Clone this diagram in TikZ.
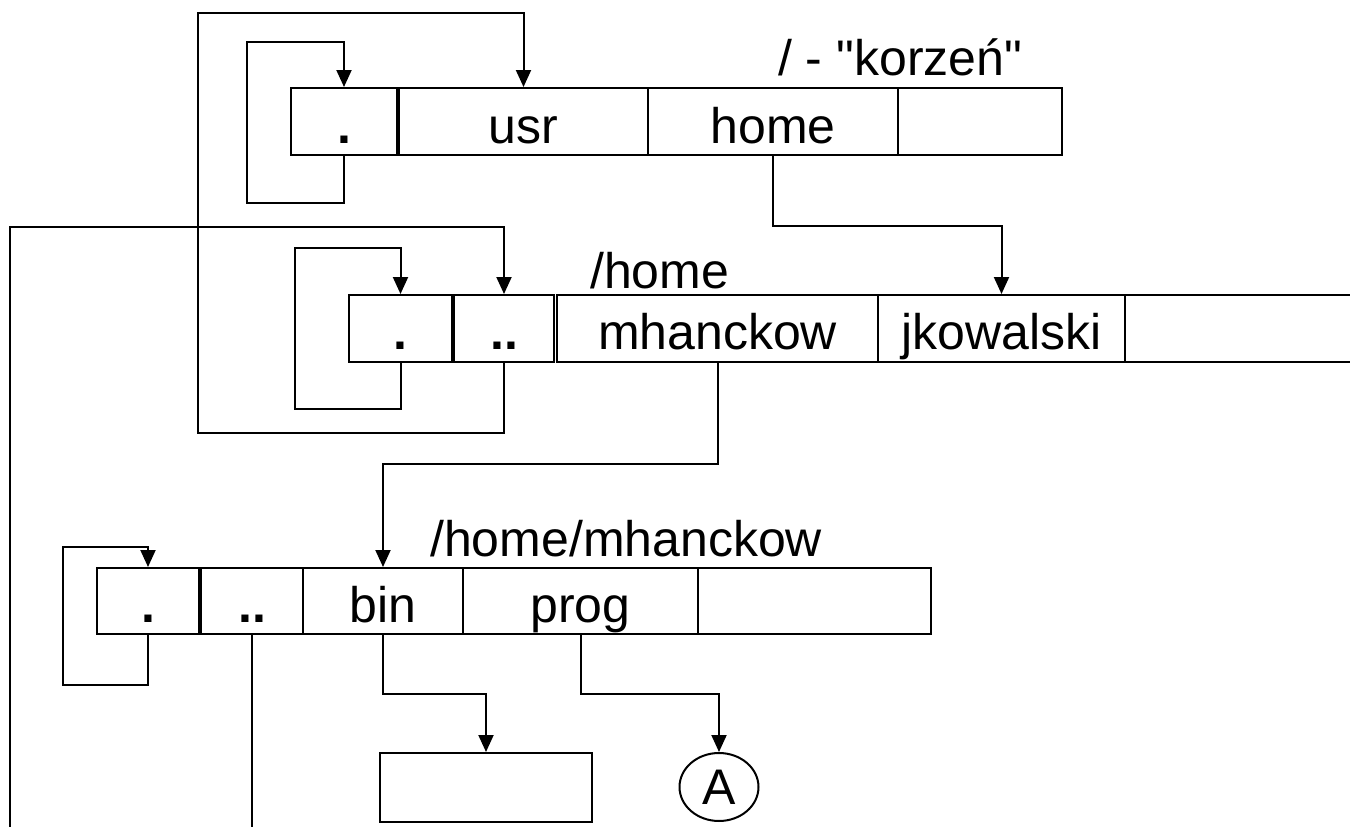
\documentclass[tikz,border=0pt]{standalone}
\usepackage{fontspec}
\setmainfont{Liberation Sans}
\usetikzlibrary{arrows.meta,shapes.geometric}

\begin{document}
\begin{tikzpicture}[x=1pt, y=-1pt,
  cell/.style={draw, line width=2pt, inner sep=0pt, font=\fontsize{50}{60}\selectfont},
  row1/.style={cell, minimum height=67pt, text height=55pt, text depth=12pt},
  row2/.style={cell, minimum height=67pt, text height=54pt, text depth=13pt},
  row3/.style={cell, minimum height=66pt, text height=54pt, text depth=12pt},
  lbl/.style={font=\fontsize{50}{60}\selectfont, inner sep=0pt, anchor=base west},
  link/.style={line width=2pt},
  arr/.style={link, -{Triangle[length=17pt,width=15pt]}}
]
\useasboundingbox (0,0) rectangle (1350,827);
% katalog glowny
\node[row1, minimum width=106pt] (r1dot) at (344,121.5) {\textbf{.}};
\node[row1, minimum width=249pt] (r1usr) at (523.5,121.5) {usr};
\node[row1, minimum width=250pt] (r1home) at (773,121.5) {home};
\node[row1, minimum width=164pt] (r1free) at (980,121.5) {};
\node[lbl] (r1name) at (778,75) {/ - \textquotedbl korzeń\textquotedbl};
% /home
\node[row2, minimum width=103pt] (r2dot) at (400.5,328.5) {\textbf{.}};
\node[row2, minimum width=100pt] (r2up) at (504,328.5) {\textbf{..}};
\node[row2, minimum width=321pt] (r2mh) at (717.5,328.5) {mhanckow};
\node[row2, minimum width=247pt] (r2jk) at (1001.5,328.5) {jkowalski};
\node[row2, minimum width=240pt] (r2free) at (1245,328.5) {};
\node[lbl] (r2name) at (590,288) {/home};
% /home/mhanckow
\node[row3, minimum width=102pt] (r3dot) at (148,601) {\textbf{.}};
\node[row3, minimum width=102pt] (r3up) at (252,601) {\textbf{..}};
\node[row3, minimum width=160pt] (r3bin) at (383,601) {bin};
\node[row3, minimum width=235pt] (r3prog) at (580.5,601) {prog};
\node[row3, minimum width=233pt] (r3free) at (814.5,601) {};
\node[lbl] (r3name) at (430,556) {/home/mhanckow};
% zawartosc
\node[cell, minimum width=212pt, minimum height=69pt] (binfile) at (486,787.5) {};
\node[cell, ellipse, minimum width=79pt, minimum height=68pt] (progA) at (719,787) {A};
\coordinate (cutleft) at (10,827);
\coordinate (cutmid) at (252,827);
% dowiazania
\draw[arr] (r1dot.south) -- ++(0,47) -- ++(-97,0) -- ++(0,-161) -- ++(97,0) -- (r1dot.north);
\draw[arr] (r1home.south) -- ++(0,70) -| (r2jk.north);
\draw[arr] (r2dot.south) -- ++(0,46) -- ++(-106,0) -- ++(0,-161) -- ++(106,0) -- (r2dot.north);
\draw[arr] (r2up.south) -- ++(0,70) -| ++(-306,-420) -| (r1usr.north);
\draw[arr] (cutleft) -- ++(0,-600) -| (r2up.north);
\draw[arr] (r2mh.south) -- ++(0,101) -| (r3bin.north);
\draw[arr] (r3dot.south) -- ++(0,50) -- ++(-85,0) -- ++(0,-138) -- ++(85,0) -- (r3dot.north);
\draw[link] (r3up.south) -- (cutmid);
\draw[arr] (r3bin.south) -- ++(0,59) -| (binfile.north);
\draw[arr] (r3prog.south) -- ++(0,59) -| (progA.north);
\end{tikzpicture}
\end{document}
